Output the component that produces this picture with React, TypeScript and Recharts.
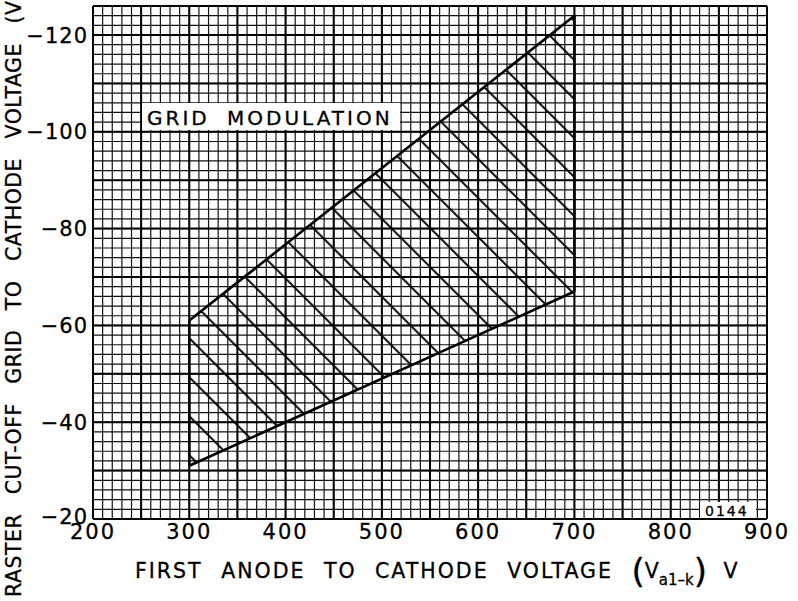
import React from "react";
import {
  ComposedChart,
  Area,
  XAxis,
  YAxis,
  CartesianGrid,
  ReferenceLine,
  Customized,
} from "recharts";

// operating region edges (first anode voltage vs raster cut-off)
const anodeV = [300, 700];
const cutoffUpper = [-61, -124];
const cutoffLower = [-31, -67];

const xTicks = [200, 300, 400, 500, 600, 700, 800, 900];
const yTicks = [-20, -40, -60, -80, -100, -120];
const xDomain = [200, 900];
const yDomain = [-126, -20];

const FONT = "DejaVu Sans";

const range = (from: number, to: number, step: number) => {
  const out: number[] = [];
  for (let v = from; v <= to + 1e-9; v += step) out.push(v);
  return out;
};

const minorX = range(200, 900, 10);
const minorY = range(-126, -20, 2);
const majorX = range(200, 900, 50);
const majorY = [-126, ...range(-120, -20, 10)];

const data = anodeV.map((v, i) => ({
  x: v,
  band: [cutoffLower[i], cutoffUpper[i]],
}));

const fmtY = (v: number) => `\u2212${Math.abs(v)}`;

const YTick = (props: any) => {
  const { x, y, payload } = props;
  const lift = payload.value === yTicks[0] ? -3 : 0;
  return (
    <text
      x={x}
      y={y + lift}
      dy="0.36em"
      textAnchor="end"
      fontSize={21}
      fontFamily={FONT}
      letterSpacing={1}
      fill="#000"
      stroke="#000"
      strokeWidth={0.3}
    >
      {fmtY(payload.value)}
    </text>
  );
};

const XTick = (props: any) => {
  const { x, y, payload } = props;
  return (
    <text
      x={x}
      y={y}
      dy="0.74em"
      textAnchor="middle"
      fontSize={21}
      fontFamily={FONT}
      letterSpacing={2}
      fill="#000"
      stroke="#000"
      strokeWidth={0.3}
    >
      {payload.value}
    </text>
  );
};

const Labels = () => (
  <g fontFamily={FONT} fill="#000" stroke="#000" strokeWidth={0.3}>
    <rect x={142} y={103} width={258} height={27} fill="#fff" stroke="none" />
    <text x={147} y={125} fontSize={20} letterSpacing={3} wordSpacing={8}>
      GRID MODULATION
    </text>
    <rect x={700} y={502} width={56} height={16} fill="#fff" stroke="none" />
    <text x={705} y={516} fontSize={14} letterSpacing={2}>
      0144
    </text>
    <text x={135} y={578} fontSize={20.5} letterSpacing={2} wordSpacing={10}>
      FIRST ANODE TO CATHODE VOLTAGE{" "}
      <tspan fontSize={34} dy={5} letterSpacing={0}>(</tspan>
      <tspan fontSize={20.5} dy={-5} letterSpacing={0}>V</tspan>
      <tspan fontSize={15} dy={7} letterSpacing={0}>a1–k</tspan>
      <tspan fontSize={34} dy={-2} letterSpacing={0}>)</tspan>
      <tspan fontSize={20.5} dy={-5} letterSpacing={0}> V</tspan>
    </text>
    <text
      x={0}
      y={0}
      fontSize={20.5}
      letterSpacing={0.5}
      wordSpacing={12.5}
      dominantBaseline="central"
      transform="translate(14 597) rotate(-90)"
    >
      RASTER CUT-OFF GRID TO CATHODE VOLTAGE (V)
    </text>
  </g>
);

export default function App() {
  return (
    <div style={{ position: "absolute", left: 0, top: 0, background: "#fff" }}>
      <ComposedChart
        width={798}
        height={601}
        data={data}
        margin={{ top: 6, right: 31, bottom: 0, left: 0 }}
      >
        <defs>
          <pattern
            id="hatch"
            patternUnits="userSpaceOnUse"
            width={20}
            height={27.58}
            patternTransform="rotate(45)"
          >
            <line x1={0} y1={22.5} x2={20} y2={22.5} stroke="#000" strokeWidth={2} />
          </pattern>
        </defs>
        <CartesianGrid
          verticalValues={minorX}
          horizontalValues={minorY}
          stroke="#111"
          strokeWidth={1.2}
          fill="none"
        />
        <CartesianGrid
          verticalValues={majorX}
          horizontalValues={majorY}
          stroke="#000"
          strokeWidth={2}
          fill="none"
        />
        <XAxis
          dataKey="x"
          type="number"
          domain={xDomain}
          ticks={xTicks}
          allowDataOverflow
          axisLine={false}
          tickLine={false}
          tickSize={0}
          tickMargin={4}
          height={82}
          interval={0}
          tick={<XTick />}
        />
        <YAxis
          type="number"
          domain={yDomain}
          ticks={yTicks}
          reversed
          allowDataOverflow
          axisLine={false}
          tickLine={false}
          tickSize={0}
          tickMargin={5}
          width={93}
          interval={0}
          tick={<YTick />}
        />
        <Area
          dataKey="band"
          type="linear"
          stroke="#000"
          strokeWidth={2.6}
          fill="url(#hatch)"
          fillOpacity={1}
          isAnimationActive={false}
          dot={false}
          activeDot={false}
        />
        <ReferenceLine
          segment={[
            { x: anodeV[0], y: cutoffLower[0] },
            { x: anodeV[0], y: cutoffUpper[0] },
          ]}
          stroke="#000"
          strokeWidth={2.6}
        />
        <ReferenceLine
          segment={[
            { x: anodeV[1], y: cutoffLower[1] },
            { x: anodeV[1], y: cutoffUpper[1] },
          ]}
          stroke="#000"
          strokeWidth={2.6}
        />
        <Customized component={Labels} />
      </ComposedChart>
    </div>
  );
}
